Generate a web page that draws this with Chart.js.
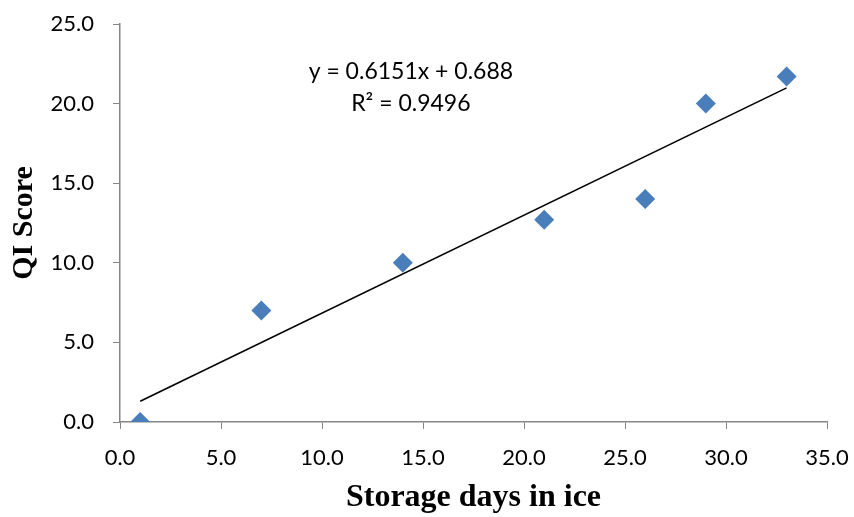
<!DOCTYPE html>
<html>
<head>
<meta charset="utf-8">
<script src="https://cdn.jsdelivr.net/npm/chart.js@4"></script>
<style>
  html, body { margin: 0; padding: 0; background: #fff; }
  #wrap { width: 854px; height: 517px; }
</style>
</head>
<body>
<div id="wrap"><canvas id="qiChart" width="854" height="517"></canvas></div>
<script>
var days = [1, 7, 14, 21, 26, 29, 33];
var qiScore = [0, 7, 10, 12.7, 14, 20, 21.7];

// linear trendline as fitted: y = 0.6151x + 0.688
var slope = 0.6151;
var intercept = 0.688;
var trendX = [1, 33];

var points = days.map(function (d, i) { return { x: d, y: qiScore[i] }; });
var trend = trendX.map(function (x) { return { x: x, y: slope * x + intercept }; });

var axisGray = "#868686";
var tickFont = { family: "Lato, 'Open Sans', sans-serif", size: 22 };

// equation + R² text above the data
var equationLabel = {
  id: "equationLabel",
  afterDatasetsDraw: function (chart) {
    var ctx = chart.ctx;
    var x = chart.scales.x.getPixelForValue(14.4);
    var y = chart.scales.y.getPixelForValue(22);
    ctx.save();
    ctx.fillStyle = "#000";
    ctx.font = "23px Lato, 'Open Sans', sans-serif";
    ctx.textAlign = "center";
    ctx.textBaseline = "middle";
    ctx.fillText("y = 0.6151x + 0.688", x, y);
    ctx.fillText("R² = 0.9496", x, y + 32);
    ctx.restore();
  }
};

new Chart("qiChart", {
  type: "scatter",
  data: {
    datasets: [{
      data: points,
      pointStyle: "rectRot",
      pointRadius: 10,
      pointHoverRadius: 10,
      backgroundColor: "#4A7EBB",
      borderColor: "#4A7EBB",
      borderWidth: 0
    }, {
      type: "line",
      data: trend,
      borderColor: "#000",
      borderWidth: 1.6,
      pointRadius: 0,
      fill: false
    }]
  },
  options: {
    responsive: false,
    animation: false,
    layout: { padding: { top: 24, right: 27, left: 0, bottom: 0 } },
    plugins: {
      legend: { display: false },
      tooltip: { enabled: false }
    },
    scales: {
      x: {
        type: "linear",
        min: 0,
        max: 35,
        ticks: {
          stepSize: 5,
          padding: 16,
          color: "#000",
          font: tickFont,
          callback: function (v) { return v.toFixed(1); }
        },
        grid: { drawOnChartArea: false, color: axisGray, tickLength: 7 },
        border: { color: axisGray, width: 1.5 },
        title: {
          display: true,
          text: "Storage days in ice",
          color: "#000",
          font: { family: "'Liberation Serif', 'Times New Roman', serif", size: 32, weight: "bold" },
          padding: { top: 0, bottom: 0 }
        },
        afterFit: function (scale) {
          scale.height = 95;
          scale.paddingLeft = 0;
          scale.paddingRight = 0;
        }
      },
      y: {
        min: 0,
        max: 25,
        ticks: {
          stepSize: 5,
          padding: 19,
          color: "#000",
          font: tickFont,
          callback: function (v) { return v.toFixed(1); }
        },
        grid: { drawOnChartArea: false, color: axisGray, tickLength: 7 },
        border: { color: axisGray, width: 1.5 },
        title: {
          display: true,
          text: "QI Score",
          color: "#000",
          font: { family: "'Liberation Serif', 'Times New Roman', serif", size: 30, weight: "bold" },
          padding: { top: 6, bottom: 0 }
        },
        afterFit: function (scale) {
          scale.width = 120;
          scale.paddingTop = 0;
          scale.paddingBottom = 0;
        }
      }
    }
  },
  plugins: [equationLabel]
});
</script>
</body>
</html>
